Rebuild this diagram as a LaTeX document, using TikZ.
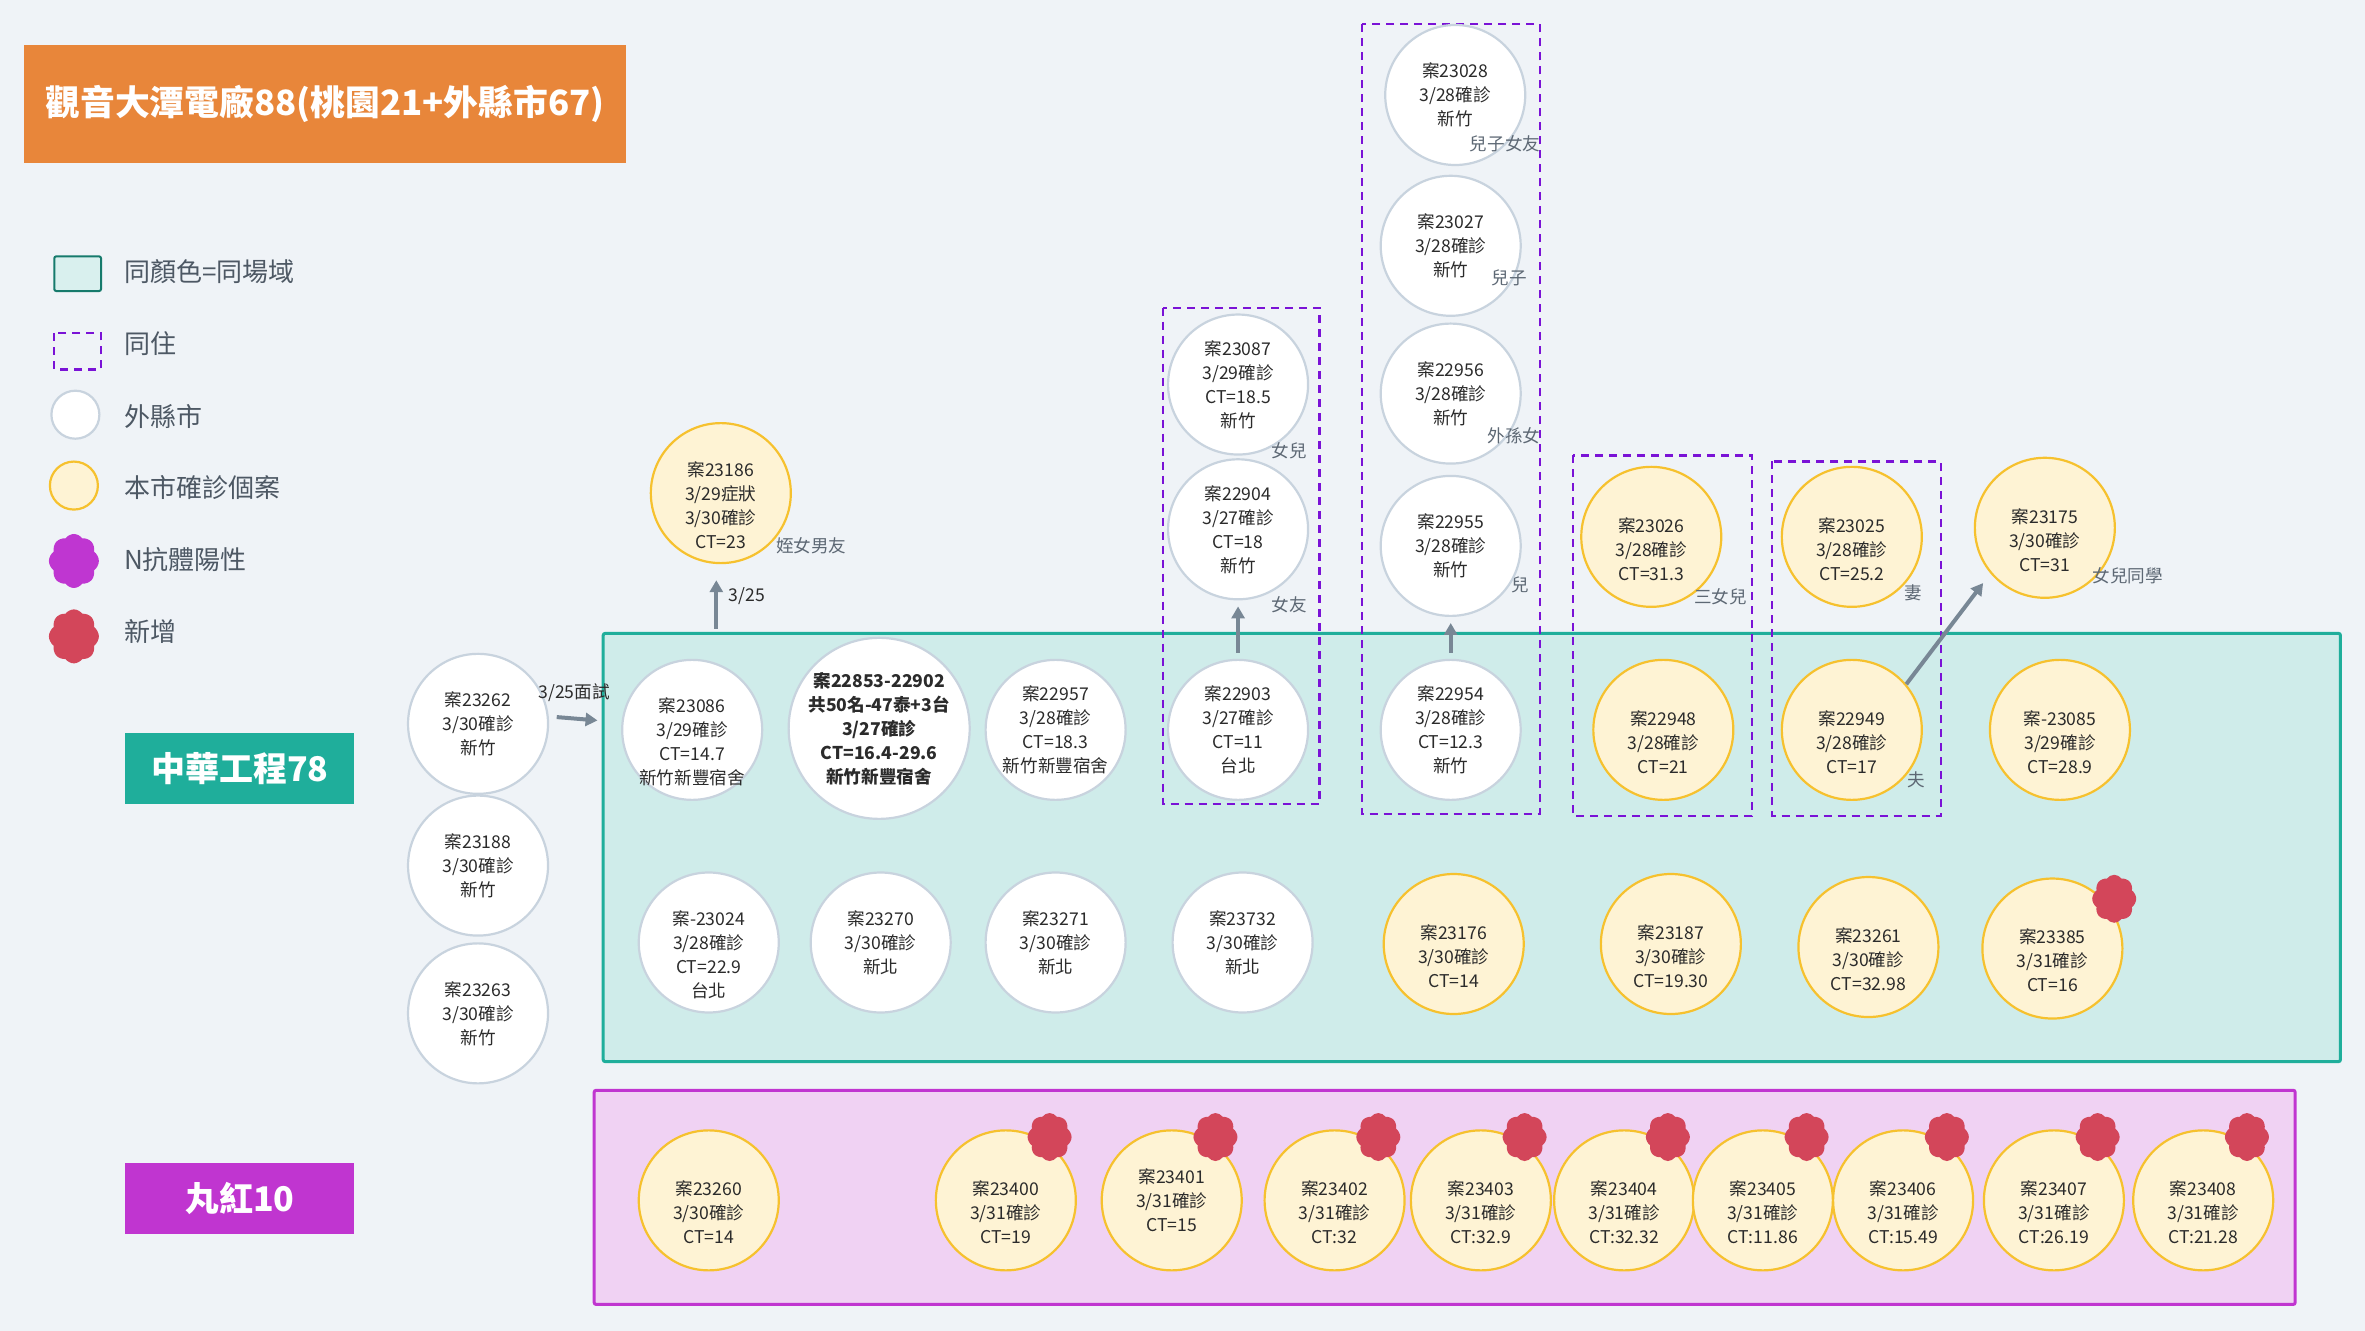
\documentclass[tikz,border=0pt]{standalone}
\usepackage{fontspec}
\setmainfont{Noto Sans CJK TC}
\usetikzlibrary{arrows.meta,shapes.symbols}
\definecolor{bgcol}{HTML}{EFF3F7}
\definecolor{titleorange}{HTML}{E8863A}
\definecolor{tealfill}{HTML}{CFECEA}
\definecolor{tealline}{HTML}{1FAE9B}
\definecolor{magfill}{HTML}{F0D2F3}
\definecolor{magline}{HTML}{C035D0}
\definecolor{ringgrey}{HTML}{C8D3DE}
\definecolor{ringgold}{HTML}{F6C12E}
\definecolor{paleyellow}{HTML}{FEF3D4}
\definecolor{dashpurple}{HTML}{7A12D6}
\definecolor{blobred}{HTML}{D3465A}
\definecolor{blobmag}{HTML}{BF36D1}
\definecolor{arrowgrey}{HTML}{788795}
\definecolor{casetext}{HTML}{2B2B2B}
\definecolor{reltext}{HTML}{5D6874}
\definecolor{legtext}{HTML}{4D5864}
\newcommand{\lowline}{\vphantom{案}\\}
\begin{document}
\begin{tikzpicture}[x=0.754pt,y=-0.754pt,
  outcity/.style={circle,draw=ringgrey,line width=1.1pt,fill=white,minimum size=70pt,inner sep=0pt,align=center,text=casetext,font=\fontsize{8.8}{12}\selectfont},
  localcase/.style={outcity,draw=ringgold,fill=paleyellow},
  relation/.style={text=reltext,font=\fontsize{8.8}{10}\selectfont},
  flow/.style={draw=arrowgrey,line width=2pt,-{Triangle[length=6pt,width=6.5pt]}},
  cohabit/.style={draw=dashpurple,line width=1.1pt,dash pattern=on 4pt off 3pt},
  newblob/.style={cloud,cloud puffs=8,cloud puff arc=110,aspect=0.9,fill=blobred,minimum width=22pt,minimum height=24pt,inner sep=0pt},
  legitem/.style={anchor=west,inner sep=0pt,text=legtext,font=\fontsize{13}{13}\selectfont},
  grouptag/.style={minimum width=114.6pt,minimum height=35.4pt,inner sep=0pt,text=white,font=\fontsize{17}{17}\selectfont\bfseries}]
\fill[bgcol] (0,0) rectangle (1568.3,882.6);
\useasboundingbox (0,0) rectangle (1568.3,882.6);
\node[fill=titleorange,minimum width=300.8pt,minimum height=58.8pt,text=white,font=\fontsize{17.4}{17.4}\selectfont\bfseries] (title) at (215.5,69) {觀音大潭電廠88(桃園21+外縣市67)};
\draw[tealline!70!black,fill=tealfill!80!white,line width=1pt,rounded corners=1pt] (36,170) rectangle (67,193);
\node[legitem] (legarea) at (82,180) {同顏色=同場域};
\draw[cohabit] (36,221) rectangle (67,245);
\node[legitem] (legcohabit) at (82,228) {同住};
\node[circle,draw=ringgrey,line width=1.1pt,fill=white,minimum size=24pt] (legout) at (50,275) {};
\node[legitem] (legouttext) at (82,276) {外縣市};
\node[circle,draw=ringgold,line width=1.1pt,fill=paleyellow,minimum size=24pt] (leglocal) at (49,322) {};
\node[legitem] (leglocaltext) at (82,323) {本市確診個案};
\node[newblob,fill=blobmag,minimum width=25pt,minimum height=27pt] (legab) at (49,372) {};
\node[legitem] (legabtext) at (82,371) {N抗體陽性};
\node[newblob,minimum width=25pt,minimum height=27pt] (legnew) at (49,422) {};
\node[legitem] (legnewtext) at (82,419) {新增};
\node[grouptag,fill=tealline] (zhonghua) at (159,509.5) {中華工程78};
\node[grouptag,fill=magline] (marubeni) at (159,794.5) {丸紅10};
\draw[tealline,fill=tealfill,line width=1.5pt,rounded corners=1pt] (400,420) rectangle (1552,704);
\draw[magline,fill=magfill,line width=1.5pt,rounded corners=1pt] (394,723) rectangle (1522,865);
\draw[cohabit] (771,204) rectangle (875,533);
\draw[cohabit] (903,16) rectangle (1021,540);
\draw[cohabit] (1043,302) rectangle (1162,541);
\draw[cohabit] (1175,306) rectangle (1287,541);
\node[relation] (r22955) at (1008,388) {兒};
\node[outcity] (c23262) at (317,480) {案23262\\3/30確診\\新竹};
\node[outcity] (c23188) at (317,574) {案23188\\3/30確診\\新竹};
\node[outcity] (c23263) at (317,672) {案23263\\3/30確診\\新竹};
\node[localcase,inner sep=-1pt] (c23186) at (478,327) {\lowline 案23186\\3/29症狀\\3/30確診\\CT=23};
\node[outcity,inner sep=-5pt] (c23086) at (459,484) {\lowline 案23086\\3/29確診\\CT=14.7\\新竹新豐宿舍};
\node[outcity,minimum size=84pt,font=\fontsize{8.8}{12}\selectfont\bfseries] (c22853) at (583,483) {案22853-22902\\共50名-47泰+3台\\3/27確診\\CT=16.4-29.6\\新竹新豐宿舍};
\node[outcity] (c22957) at (700,484) {案22957\\3/28確診\\CT=18.3\\新竹新豐宿舍};
\node[outcity] (c22903) at (821,484) {案22903\\3/27確診\\CT=11\\台北};
\node[outcity] (c22904) at (821,351) {案22904\\3/27確診\\CT=18\\新竹};
\node[outcity] (c23087) at (821,255) {案23087\\3/29確診\\CT=18.5\\新竹};
\node[outcity] (c22954) at (962,484) {案22954\\3/28確診\\CT=12.3\\新竹};
\node[outcity] (c22955) at (962,362) {案22955\\3/28確診\\新竹};
\node[outcity] (c22956) at (962,261) {案22956\\3/28確診\\新竹};
\node[outcity] (c23027) at (962,163) {案23027\\3/28確診\\新竹};
\node[outcity] (c23028) at (965,63) {案23028\\3/28確診\\新竹};
\node[localcase] (c22948) at (1103,484) {\lowline 案22948\\3/28確診\\CT=21};
\node[localcase] (c23026) at (1095,356) {\lowline 案23026\\3/28確診\\CT=31.3};
\node[localcase] (c22949) at (1228,484) {\lowline 案22949\\3/28確診\\CT=17};
\node[localcase] (c23025) at (1228,356) {\lowline 案23025\\3/28確診\\CT=25.2};
\node[localcase] (c23175) at (1356,350) {\lowline 案23175\\3/30確診\\CT=31};
\node[localcase] (c23085) at (1366,484) {\lowline 案-23085\\3/29確診\\CT=28.9};
\node[outcity,inner sep=-3pt] (c23024) at (470,625) {\lowline 案-23024\\3/28確診\\CT=22.9\\台北};
\node[outcity] (c23270) at (584,625) {案23270\\3/30確診\\新北};
\node[outcity] (c23271) at (700,625) {案23271\\3/30確診\\新北};
\node[outcity] (c23732) at (824,625) {案23732\\3/30確診\\新北};
\node[localcase] (c23176) at (964,626) {\lowline 案23176\\3/30確診\\CT=14};
\node[localcase] (c23187) at (1108,626) {\lowline 案23187\\3/30確診\\CT=19.30};
\node[localcase] (c23261) at (1239,628) {\lowline 案23261\\3/30確診\\CT=32.98};
\node[localcase] (c23385) at (1361,629) {\lowline 案23385\\3/31確診\\CT=16};
\node[newblob] (n23385) at (1402,596) {};
\node[localcase] (c23260) at (470,796) {\lowline 案23260\\3/30確診\\CT=14};
\foreach \x/\id/\ct/\pre in {667/23400/CT=19/\lowline,777/23401/CT=15/,885/23402/CT:32/\lowline,982/23403/CT:32.9/\lowline,1077/23404/CT:32.32/\lowline,1169/23405/CT:11.86/\lowline,1262/23406/CT:15.49/\lowline,1362/23407/CT:26.19/\lowline,1461/23408/CT:21.28/\lowline}
{
  \node[localcase] (c\id) at (\x,796) {\pre 案\id\\3/31確診\\\ct};
  \node[newblob] (n\id) at (\x+29,754) {};
}
\node[relation] at (538,362) {姪女男友};
\node[relation] at (855,299) {女兒};
\node[relation] at (855,401) {女友};
\node[relation] at (998,95) {兒子女友};
\node[relation] at (1001,184) {兒子};
\node[relation] at (1004,289) {外孫女};
\node[relation] at (1141,396) {三女兒};
\node[relation] at (1269,393) {妻};
\node[relation] at (1271,517) {夫};
\node[relation] at (1411,382) {女兒同學};
\coordinate (a325) at (475,417);
\draw[flow,shorten >=8pt] (a325) -- (c23186.south -| a325) node[midway,right=2pt,text=casetext,font=\fontsize{8.8}{10}\selectfont] {3/25};
\draw[flow,shorten <=4pt,shorten >=12pt] (c23262.6) -- (c23086.174) node[pos=0.35,above=4pt,text=casetext,font=\fontsize{8.8}{10}\selectfont] {3/25面試};
\draw[flow,shorten <=3pt,shorten >=3pt] (c22903) -- (c22904);
\draw[flow,shorten <=3pt,shorten >=3pt] (c22954) -- (c22955);
\draw[flow,shorten >=6pt] (c22949.40) -- (c23175.220);
\end{tikzpicture}
\end{document}
